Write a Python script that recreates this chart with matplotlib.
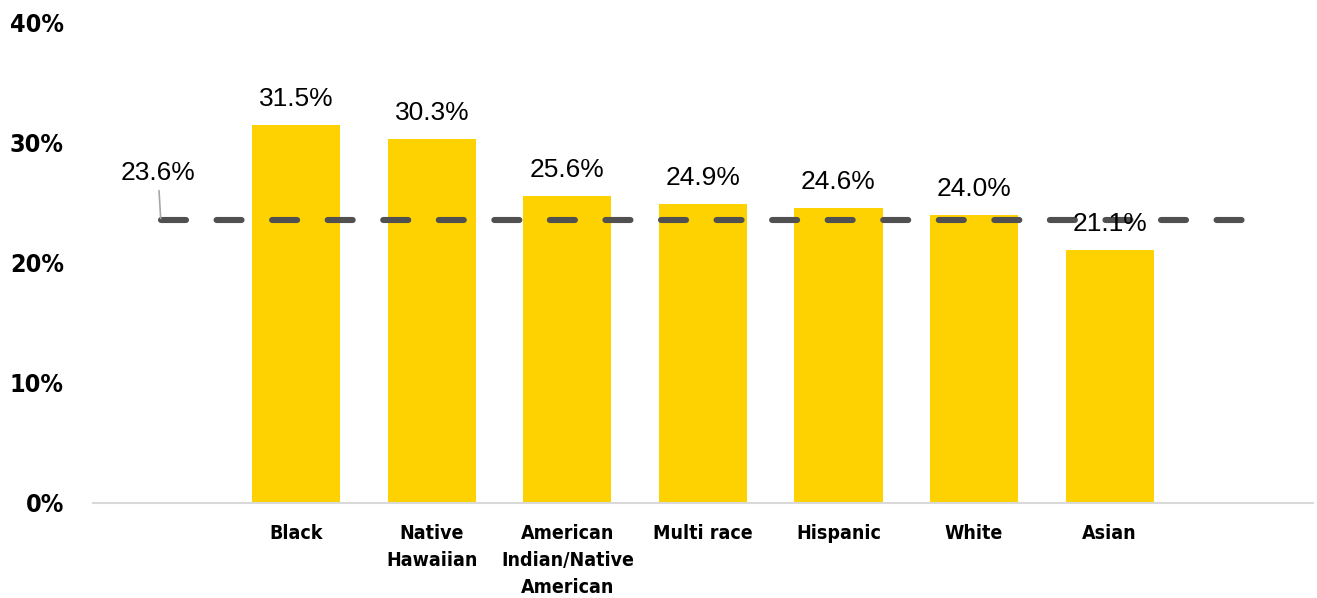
import numpy as np
import matplotlib.pyplot as plt
from matplotlib.ticker import FuncFormatter

# first and last slots are empty so the average line runs past the bars
groups = ['', 'Black', 'Native\nHawaiian', 'American\nIndian/Native\nAmerican',
          'Multi race', 'Hispanic', 'White', 'Asian', '']
rates = [np.nan, 31.5, 30.3, 25.6, 24.9, 24.6, 24.0, 21.1, np.nan]
overall = 23.6
y_ticks = [0, 10, 20, 30, 40]

plt.rcParams['lines.scale_dashes'] = False

fig = plt.figure(figsize=(13.17, 5.98), dpi=100)
ax = fig.add_axes([0.0706, 0.1589, 0.9263, 0.8027])

x = np.arange(len(groups))
ax.bar(x, rates, width=0.65, color='#FDD200', zorder=2)

ax.plot(x, [overall] * len(x), color='#505050', lw=4.4,
        dashes=(18, 22), dash_capstyle='round', zorder=3)

for xi, v in zip(x, rates):
    if np.isnan(v):
        continue
    ax.annotate(f'{v:.1f}%', (xi, v), xytext=(0, 10), textcoords='offset points',
                ha='center', va='bottom', fontsize=19, family='Liberation Sans',
                color='black', zorder=4)

# label for the overall average with a short leader line
ax.annotate(f'{overall:.1f}%', (x[0], overall), xytext=(-2, 25),
            textcoords='offset points', ha='center', va='bottom', fontsize=19,
            family='Liberation Sans', color='black',
            arrowprops=dict(arrowstyle='-', color='#A6A6A6', lw=1.2,
                            shrinkA=2, shrinkB=1))

ax.set_xlim(-0.5, len(groups) - 0.5)
ax.set_ylim(0, 40)
ax.set_yticks(y_ticks)
ax.yaxis.set_major_formatter(FuncFormatter(lambda v, p: f'{v:.0f}%'))
ax.set_xticks(x)
ax.set_xticklabels(groups, family='DejaVu Sans', fontstretch='condensed',
                   fontweight='bold', fontsize=14, linespacing=1.55)
for lab in ax.get_yticklabels():
    lab.set_family('DejaVu Sans')
    lab.set_fontstretch('condensed')
    lab.set_fontweight('bold')
    lab.set_fontsize(18)

ax.tick_params(axis='x', length=0, pad=15)
ax.tick_params(axis='y', length=0, pad=21)
for side in ['top', 'right', 'left']:
    ax.spines[side].set_visible(False)
ax.spines['bottom'].set_color('#D9D9D9')
ax.spines['bottom'].set_linewidth(1.5)

fig.savefig('out.png', dpi=100)
